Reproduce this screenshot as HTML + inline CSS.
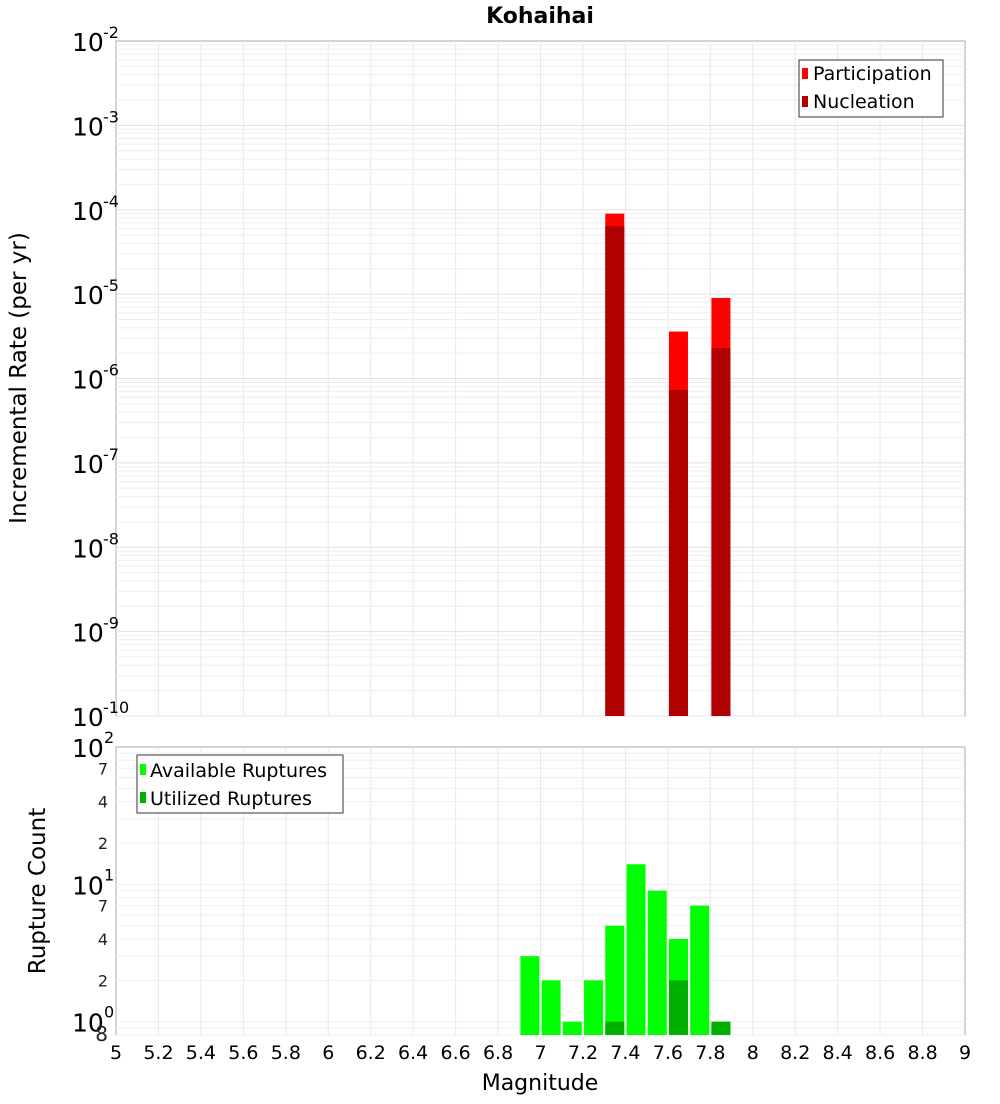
<!DOCTYPE html>
<html><head><meta charset="utf-8"><style>
body{margin:0;background:#fff;font-family:"DejaVu Sans","Liberation Sans",sans-serif}
svg text{font-family:"DejaVu Sans","Liberation Sans",sans-serif}
</style></head><body>
<svg id="c" width="1000" height="1100" xmlns="http://www.w3.org/2000/svg">
<text x="540" y="23" font-size="22" font-weight="bold" text-anchor="middle">Kohaihai</text>
<rect x="116" y="41" width="849" height="675" fill="#fff" stroke="#aaa"/>
<rect x="116" y="747" width="849" height="288" fill="#fff" stroke="#aaa"/>
<g id="grid"></g><g id="bars"></g><g id="axes"></g>
<text transform="translate(26,378) rotate(-90)" font-size="23" text-anchor="middle">Incremental Rate (per yr)</text>
<text transform="translate(45,891) rotate(-90)" font-size="23" text-anchor="middle">Rupture Count</text>
<text x="540" y="1090" font-size="22" text-anchor="middle">Magnitude</text>
<g>
<rect x="799" y="60" width="144" height="57" fill="#fff" stroke="#333"/>
<rect x="802" y="68" width="6" height="11" fill="#ff0000"/>
<text x="813" y="80" font-size="19">Participation</text>
<rect x="802" y="96" width="6" height="11" fill="#b00000"/>
<text x="813" y="108" font-size="19">Nucleation</text>
</g>
<g>
<rect x="137" y="755" width="206" height="58" fill="#fff" stroke="#333"/>
<rect x="140" y="764" width="6" height="11" fill="#00ff00"/>
<text x="150" y="777" font-size="19">Available Ruptures</text>
<rect x="140" y="792" width="6" height="11" fill="#00b000"/>
<text x="150" y="805" font-size="19">Utilized Ruptures</text>
</g>
</svg>
<script>
const topMags=[7.35,7.65,7.85];
const participation=[9e-5,3.6e-6,9e-6];
const nucleation=[6.4e-5,7.3e-7,2.3e-6];
const botMags=[6.95,7.05,7.15,7.25,7.35,7.45,7.55,7.65,7.75,7.85];
const available=[3,2,1,2,5,14,9,4,7,1];
const utilized=[0,0,0,0,1,0,0,2,0,1];
const xTicks=["5","5.2","5.4","5.6","5.8","6","6.2","6.4","6.6","6.8","7","7.2","7.4","7.6","7.8","8","8.2","8.4","8.6","8.8","9"];
const topExps=[-2,-3,-4,-5,-6,-7,-8,-9,-10];
const NS="http://www.w3.org/2000/svg";
const X=m=>116+(m-5)*(849/4);
const YT=v=>41+(-2-Math.log10(v))*(675/8);
const YB=v=>747+(2-Math.log10(v))*(288/Math.log10(100/0.8));
function mk(tag,at,parent,txt){const e=document.createElementNS(NS,tag);for(const k in at)e.setAttribute(k,at[k]);if(txt!==undefined)e.textContent=txt;document.getElementById(parent).appendChild(e);return e;}
for(let i=1;i<xTicks.length-1;i++){const x=X(parseFloat(xTicks[i]));
const g1=mk('line',{x1:x,x2:x,y1:41,y2:716,stroke:'#e8e8e8'},'grid');

const g2=mk('line',{x1:x,x2:x,y1:747,y2:1035,stroke:'#e8e8e8'},'grid');
}
for(let e=-10;e<-2;e++)for(let k=1;k<10;k++){const y=YT(k*Math.pow(10,e));
const g=mk('line',{x1:116,x2:965,y1:y,y2:y,stroke:k==1?'#e0e0e0':'#eeeeee'},'grid');
}
for(let e=-1;e<2;e++)for(let k=1;k<10;k++){const v=k*Math.pow(10,e);if(v<0.8)continue;const y=YB(v);
const g=mk('line',{x1:116,x2:965,y1:y,y2:y,stroke:'#eeeeee'},'grid');
}
const bw=19;
topMags.forEach((m,i)=>{const x=X(m)-bw/2;
const p=mk('rect',{x:x,y:YT(participation[i]),width:bw,height:716-YT(participation[i]),fill:'#ff0000'},'bars');

const n=mk('rect',{x:x,y:YT(nucleation[i]),width:bw,height:716-YT(nucleation[i]),fill:'#b00000'},'bars');
});
botMags.forEach((m,i)=>{const x=X(m)-bw/2;
const a=mk('rect',{x:x,y:YB(available[i]),width:bw,height:1035-YB(available[i]),fill:'#00ff00'},'bars');

if(utilized[i]>0){const u=mk('rect',{x:x,y:YB(utilized[i]),width:bw,height:1035-YB(utilized[i]),fill:'#00b000'},'bars');
}});
xTicks.forEach(t=>{const l=mk('text',{x:X(parseFloat(t)),y:1059,'font-size':19,'text-anchor':'middle'},'axes',t);
});
topExps.forEach(e=>{const y=YT(Math.pow(10,e));
const t=mk('text',{x:72,y:y+10,'font-size':25},'axes','10');

const s=mk('text',{x:103,y:y-3,'font-size':16},'axes',String(e));
});
[[100,'10','2'],[10,'10','1'],[1,'10','0']].forEach(([v,b,ex])=>{const y=YB(v);
const t=mk('text',{x:72,y:y+10,'font-size':25},'axes',b);

const s=mk('text',{x:104,y:y-4,'font-size':16},'axes',ex);
});
[[70,'7'],[40,'4'],[20,'2'],[7,'7'],[4,'4'],[2,'2'],[0.8,'8']].forEach(([v,l])=>{const y=YB(v);
const t=mk('text',{x:108,y:y+6,'font-size':v==0.8?20:16,'text-anchor':'end',fill:'#222'},'axes',l);
});
</script>
</body></html>
